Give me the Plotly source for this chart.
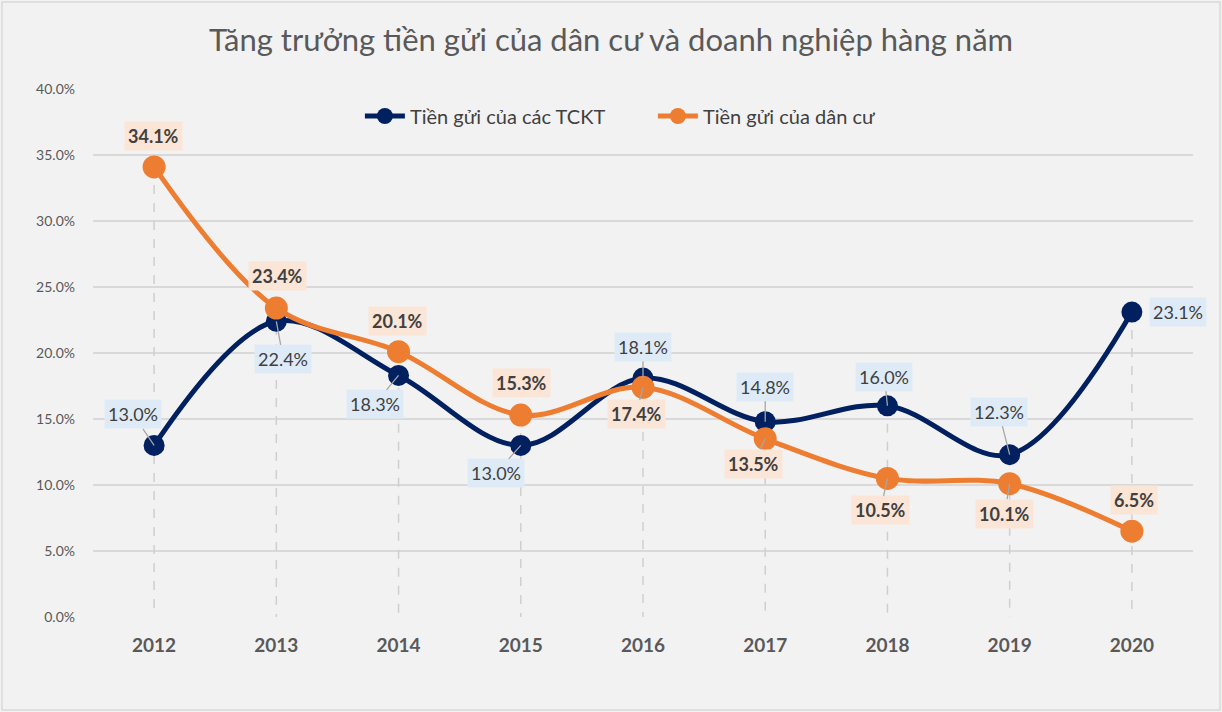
import plotly.graph_objects as go

years = ["2012", "2013", "2014", "2015", "2016", "2017", "2018", "2019", "2020"]
tckt = [13.0, 22.4, 18.3, 13.0, 18.1, 14.8, 16.0, 12.3, 23.1]
dancu = [34.1, 23.4, 20.1, 15.3, 17.4, 13.5, 10.5, 10.1, 6.5]
name_tckt = "Tiền gửi của các TCKT"
name_dancu = "Tiền gửi của dân cư"
title = "Tăng trưởng tiền gửi của dân cư và doanh nghiệp hàng năm"
yticks = [0, 5, 10, 15, 20, 25, 30, 35, 40]

xi = list(range(len(years)))

# label offsets (px) relative to points, and leader-line visibility
off_tckt = [(-21, -31), (7, 38), (-24, 29), (-25, 28), (0, -31), (0, -35), (-3, -29), (-11, -43), (46, 0)]
arr_tckt = [True, True, True, True, True, True, True, True, False]
off_dancu = [(-1, -31), (1, -32), (-1, -31), (1, -32), (-7, 27), (-12, 25), (-7, 32), (-5, 30), (2, -31)]
arr_dancu = [False, False, False, False, True, True, True, True, False]

NAVY = "#002060"
ORANGE = "#ED7D31"
FONT = "Lato"

fig = go.Figure()

# drop lines
dx, dy = [], []
for x, a, b in zip(xi, tckt, dancu):
    dx += [x, x, None]
    dy += [max(a, b), 0, None]
fig.add_trace(go.Scatter(x=dx, y=dy, mode="lines", line=dict(color="#CFCFCF", width=1.5, dash="dash"),
                         showlegend=False, hoverinfo="skip"))

fig.add_trace(go.Scatter(x=xi, y=tckt, name=name_tckt, mode="lines+markers",
                         line=dict(color=NAVY, width=5, shape="spline", smoothing=1.0),
                         marker=dict(color=NAVY, size=21)))
fig.add_trace(go.Scatter(x=xi, y=dancu, name=name_dancu, mode="lines+markers",
                         line=dict(color=ORANGE, width=5, shape="spline", smoothing=1.0),
                         marker=dict(color=ORANGE, size=23)))

anns = []
for x, v, (ox, oy), ar in zip(xi, tckt, off_tckt, arr_tckt):
    anns.append(dict(x=x, y=v, xref="x", yref="y", text=f"{v:.1f}%", showarrow=True,
                     ax=ox, ay=oy, arrowhead=0, arrowwidth=1.3,
                     arrowcolor="#A6A6A6" if ar else "rgba(0,0,0,0)",
                     bgcolor="#DEEBF7", borderpad=3,
                     font=dict(family=FONT, size=18, color="#404040")))
for x, v, (ox, oy), ar in zip(xi, dancu, off_dancu, arr_dancu):
    anns.append(dict(x=x, y=v, xref="x", yref="y", text=f"<b>{v:.1f}%</b>", showarrow=True,
                     ax=ox, ay=oy, arrowhead=0, arrowwidth=1.3,
                     arrowcolor="#A6A6A6" if ar else "rgba(0,0,0,0)",
                     bgcolor="#FBE5D6", borderpad=3,
                     font=dict(family=FONT, size=18, color="#404040")))

W, H = 1222, 712
L, R, T, B = 93, 29, 89, 95
pw, ph = W - L - R, H - T - B

fig.update_layout(
    width=W, height=H,
    margin=dict(l=L, r=R, t=T, b=B, autoexpand=False),
    paper_bgcolor="#F2F2F2", plot_bgcolor="#F2F2F2",
    font=dict(family=FONT, color="#595959"),
    title=dict(text=title, x=0.5, xanchor="center", y=1 - 40 / H, yanchor="middle",
               yref="container", font=dict(family=FONT, size=31, color="#595959")),
    legend=dict(orientation="h", x=0.509, xanchor="center", y=(H - B - 116) / ph, yanchor="middle",
                font=dict(family=FONT, size=20, color="#404040"), bgcolor="rgba(0,0,0,0)",
                itemwidth=40, entrywidth=238, entrywidthmode="pixels"),
    annotations=anns,
    shapes=[dict(type="rect", xref="paper", yref="paper",
                 x0=-(L - 2) / pw, x1=1 + (R - 2) / pw, y0=-(B - 2) / ph, y1=1 + (T - 2) / ph,
                 line=dict(color="#D9D9D9", width=1.5), fillcolor="rgba(0,0,0,0)", layer="below")],
    showlegend=True,
)
fig.update_xaxes(range=[-0.5, len(years) - 0.5], tickvals=xi, ticktext=[f"<b>{y}</b>" for y in years],
                 showgrid=False, zeroline=False, showline=False,
                 tickfont=dict(family=FONT, size=19, color="#595959"), ticks="", ticklabelstandoff=15)
fig.update_yaxes(range=[0, 40], tickvals=yticks, ticktext=[f"{t:.1f}%" for t in yticks],
                 showgrid=True, gridcolor="#D9D9D9", gridwidth=1.5, zeroline=False, showline=False,
                 tickfont=dict(family=FONT, size=14, color="#595959"), ticks="", ticklabelstandoff=17)

fig.write_html("out.html", config={"displayModeBar": False},
               post_script="document.body.style.margin='0';")
